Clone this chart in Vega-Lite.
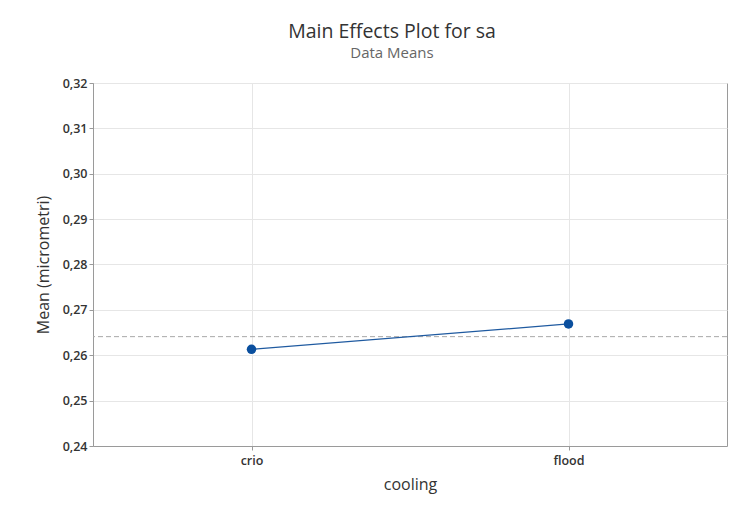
{
  "$schema": "https://vega.github.io/schema/vega-lite/v6.json",
  "autosize": {"type": "none"},
  "width": 634,
  "height": 363,
  "padding": {"left": 93, "top": 83, "right": 21, "bottom": 60},
  "background": "white",
  "title": {
    "text": "Main Effects Plot for sa",
    "subtitle": "Data Means",
    "anchor": "middle",
    "dx": -18,
    "offset": 15,
    "font": "Open Sans",
    "fontSize": 19.5,
    "fontWeight": "normal",
    "color": "#333333",
    "subtitleFont": "Open Sans",
    "subtitleFontSize": 15,
    "subtitleColor": "#666666",
    "subtitlePadding": 4
  },
  "datasets": {
    "means": [
      {"cooling": "crio", "mean": 0.2613},
      {"cooling": "flood", "mean": 0.2669}
    ],
    "overall": [{"grand": 0.2641}]
  },
  "config": {
    "view": {"stroke": "#9a9a9a", "strokeWidth": 1},
    "axis": {
      "labelFont": "Open Sans",
      "labelFontSize": 12.5,
      "labelFontWeight": 600,
      "labelColor": "#333333",
      "titleFont": "Open Sans",
      "titleFontSize": 16,
      "titleFontWeight": "normal",
      "titleColor": "#333333",
      "domainColor": "#9a9a9a",
      "tickColor": "#9a9a9a",
      "tickSize": 4,
      "gridColor": "#e6e6e6",
      "gridWidth": 1
    }
  },
  "layer": [
    {
      "data": {"name": "overall"},
      "mark": {"type": "rule", "color": "#a8a8a8", "strokeDash": [5, 3], "strokeWidth": 1},
      "encoding": {
        "y": {"field": "grand", "type": "quantitative"}
      }
    },
    {
      "data": {"name": "means"},
      "mark": {"type": "line", "color": "#1f5aa0", "strokeWidth": 1.2},
      "encoding": {
        "x": {
          "field": "cooling",
          "type": "ordinal",
          "scale": {"type": "point", "padding": 0.5},
          "axis": {"labelAngle": 0, "grid": true, "title": "cooling", "titlePadding": 10, "labelPadding": 4}
        },
        "y": {
          "field": "mean",
          "type": "quantitative",
          "scale": {"domain": [0.24, 0.32], "nice": false, "zero": false},
          "axis": {
            "values": [0.24, 0.25, 0.26, 0.27, 0.28, 0.29, 0.30, 0.31, 0.32],
            "labelExpr": "replace(format(datum.value, '.2f'), '.', ',')",
            "title": "Mean (micrometri)",
            "titlePadding": 11,
            "grid": true
          }
        }
      }
    },
    {
      "data": {"name": "means"},
      "mark": {"type": "circle", "color": "#0a4f9e", "opacity": 1, "size": 90},
      "encoding": {
        "x": {"field": "cooling", "type": "ordinal", "scale": {"type": "point", "padding": 0.5}},
        "y": {"field": "mean", "type": "quantitative"}
      }
    }
  ]
}
